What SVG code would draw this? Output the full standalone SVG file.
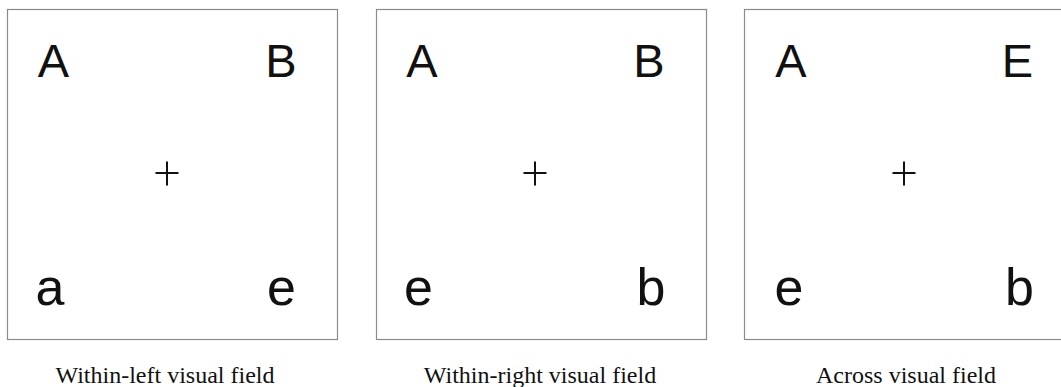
<svg xmlns="http://www.w3.org/2000/svg" width="1061" height="387" viewBox="0 0 1061 387">
<style>
.box{fill:#fff;stroke:#8a8a8a;stroke-width:1.2}
.L{font-family:"Liberation Sans","Noto Sans",sans-serif;font-size:47px;fill:#111;text-anchor:middle}
.l{font-family:"Liberation Sans","Noto Sans",sans-serif;font-size:52px;fill:#111;text-anchor:middle}
.cap{font-family:"Liberation Serif","Times New Roman",serif;font-size:24px;fill:#111;text-anchor:middle}
.fx{stroke:#111;stroke-width:2}
</style>
<rect width="1061" height="387" fill="#fff"/>
<g id="panel-left">
<rect class="box" x="7.5" y="9.5" width="330" height="330"/>
<text class="L" x="53.5" y="77">A</text>
<text class="L" x="281" y="77">B</text>
<text class="l" x="50" y="305">a</text>
<text class="l" x="281.5" y="305">e</text>
<path class="fx" d="M155.5 173H178.5M167 161.5V185.5"/>
<text class="cap" x="165" y="383">Within-left visual field</text>
</g>
<g id="panel-right">
<rect class="box" x="376.5" y="9.5" width="330" height="330"/>
<text class="L" x="422" y="77">A</text>
<text class="L" x="649" y="77">B</text>
<text class="l" x="418.5" y="305">e</text>
<text class="l" x="651" y="305">b</text>
<path class="fx" d="M523.5 173H546.5M535 161.5V185.5"/>
<text class="cap" x="540" y="383">Within-right visual field</text>
</g>
<g id="panel-across">
<rect class="box" x="744.5" y="9.5" width="330" height="330"/>
<text class="L" x="791" y="77">A</text>
<text class="L" x="1017.5" y="77">E</text>
<text class="l" x="789" y="305">e</text>
<text class="l" x="1019.5" y="305">b</text>
<path class="fx" d="M892.5 173H915.5M904 161.5V185.5"/>
<text class="cap" x="906" y="383">Across visual field</text>
</g>
<g id="connectors"/>
</svg>
